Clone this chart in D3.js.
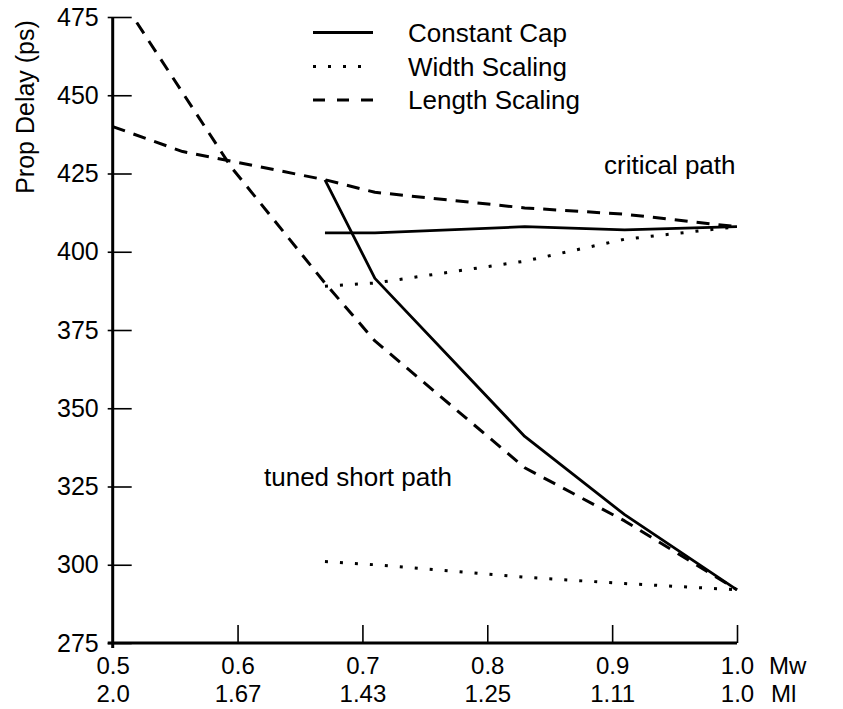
<!DOCTYPE html>
<html>
<head>
<meta charset="utf-8">
<script src="https://cdn.jsdelivr.net/npm/d3@7"></script>
<style>
  html, body { margin: 0; padding: 0; background: #fff; }
  svg { display: block; }
  text { font-family: "Liberation Sans", Arial, Helvetica, sans-serif; fill: #000; }
</style>
</head>
<body>
<svg id="chart" width="843" height="709"></svg>
<script>
// ---- data ----
const mwTicks = [0.5, 0.6, 0.7, 0.8, 0.9, 1.0];
const mwLabels = ["0.5", "0.6", "0.7", "0.8", "0.9", "1.0"];
const mlLabels = ["2.0", "1.67", "1.43", "1.25", "1.11", "1.0"];
const yTicks = [275, 300, 325, 350, 375, 400, 425, 450, 475];

const seriesNames = ["Constant Cap", "Width Scaling", "Length Scaling"];

const capX = [0.67, 0.71, 0.83, 0.91, 1.0];
const capCritical = [406, 406, 408, 407, 408];
const capShort = [423, 391.5, 341, 316, 292];

const widthX = [0.67, 0.71, 0.83, 0.91, 1.0];
const widthCritical = [389, 390, 397, 404, 408];
const widthShort = [301, 300, 296, 294, 292];

const lengthCritX = [0.5, 0.556, 0.67, 0.71, 0.83, 0.91, 1.0];
const lengthCritical = [440, 432, 423, 419, 414, 412, 408];
const lengthShortX = [0.5, 0.595, 0.67, 0.71, 0.83, 0.91, 1.0];
const lengthShort = [485, 427, 390, 371.5, 331, 314, 292];

// ---- chart ----
const svg = d3.select("#chart");
svg.append("rect").attr("width", 843).attr("height", 709).attr("fill", "#fff");

const x = d3.scaleLinear().domain([0.5, 1.0]).range([112.7, 737]);
const y = d3.scaleLinear().domain([275, 475]).range([643, 17]);

const styles = {
  "Constant Cap": { dash: null, width: 2.8 },
  "Width Scaling": { dash: "3,12", width: 3 },
  "Length Scaling": { dash: "13,9", width: 3 }
};

svg.append("clipPath").attr("id", "plotclip")
  .append("rect").attr("x", x(0.5)).attr("y", y(475)).attr("width", x(1.0) - x(0.5) + 5).attr("height", y(275) - y(475));

const line = d3.line().x(d => x(d[0])).y(d => y(d[1]));
const zip = (xs, ys) => xs.map((v, i) => [v, ys[i]]);

const lines = [
  { name: "Length Scaling", data: zip(lengthCritX, lengthCritical) },
  { name: "Length Scaling", data: zip(lengthShortX, lengthShort) },
  { name: "Width Scaling", data: zip(widthX, widthCritical) },
  { name: "Width Scaling", data: zip(widthX, widthShort) },
  { name: "Constant Cap", data: zip(capX, capCritical) },
  { name: "Constant Cap", data: zip(capX, capShort) }
];

const g = svg.append("g").attr("clip-path", "url(#plotclip)");
g.selectAll("path.series").data(lines).join("path")
  .attr("class", "series")
  .attr("d", d => line(d.data))
  .attr("fill", "none")
  .attr("stroke", "#000")
  .attr("stroke-width", d => styles[d.name].width)
  .attr("stroke-dasharray", d => styles[d.name].dash)
  .attr("stroke-linejoin", "round");

// ---- axes ----
const yAxis = d3.axisLeft(y).tickValues(yTicks).tickSize(0).tickPadding(14).tickFormat(d3.format("d"));
const yg = svg.append("g").attr("transform", `translate(${x(0.5)},0)`).call(yAxis);
yg.select(".domain").remove();
yg.selectAll(".tick line").attr("x1", -5).attr("x2", 19).attr("stroke", "#000").attr("stroke-width", 1.6);
yg.selectAll(".tick text").attr("font-size", 25).attr("font-family", "Liberation Sans, Arial, sans-serif").attr("fill", "#000");

const xAxis = d3.axisBottom(x).tickValues(mwTicks).tickSize(0).tickPadding(14)
  .tickFormat((d, i) => mwLabels[i]);
const xg = svg.append("g").attr("transform", `translate(0,${y(275)})`).call(xAxis);
xg.select(".domain").remove();
xg.selectAll(".tick line").attr("y1", 0).attr("y2", -18).attr("stroke", "#000").attr("stroke-width", 1.6);
xg.selectAll(".tick text").attr("font-size", 24).attr("font-family", "Liberation Sans, Arial, sans-serif").attr("fill", "#000")
  .attr("dy", null).attr("y", 31);
xg.selectAll(".tick").append("text")
  .attr("y", 59).attr("text-anchor", "middle")
  .attr("font-size", 24).attr("fill", "#000")
  .text((d, i) => mlLabels[i]);

// axis lines
svg.append("line").attr("x1", x(0.5)).attr("x2", x(0.5)).attr("y1", y(475)).attr("y2", y(275) + 5)
  .attr("stroke", "#000").attr("stroke-width", 3);
svg.append("line").attr("x1", x(0.5) - 5).attr("x2", x(1.0)).attr("y1", y(275)).attr("y2", y(275))
  .attr("stroke", "#000").attr("stroke-width", 3);

// axis names
svg.append("text").attr("x", 769).attr("y", y(275) + 31).attr("font-size", 24).text("Mw");
svg.append("text").attr("x", 771).attr("y", y(275) + 59).attr("font-size", 24).text("Ml");
svg.append("text")
  .attr("transform", `translate(34,107) rotate(-90)`)
  .attr("text-anchor", "middle").attr("font-size", 25)
  .text("Prop Delay (ps)");

// annotations
svg.append("text").attr("x", 604).attr("y", 174).attr("font-size", 26).text("critical path");
svg.append("text").attr("x", 264).attr("y", 486).attr("font-size", 26).text("tuned short path");

// ---- legend ----
const legendY = [32.5, 66.5, 100];
const lg = svg.append("g");
const items = lg.selectAll("g").data(seriesNames).join("g")
  .attr("transform", (d, i) => `translate(313,${legendY[i]})`);
items.append("line").attr("x1", 0).attr("x2", 60).attr("y1", 0).attr("y2", 0)
  .attr("stroke", "#000").attr("stroke-width", 3)
  .attr("stroke-dasharray", d => d === "Length Scaling" ? "12,12" : (d === "Width Scaling" ? "3,12" : null));
items.append("text").attr("x", 95).attr("y", 9).attr("font-size", 26).text(d => d);
</script>
</body>
</html>
